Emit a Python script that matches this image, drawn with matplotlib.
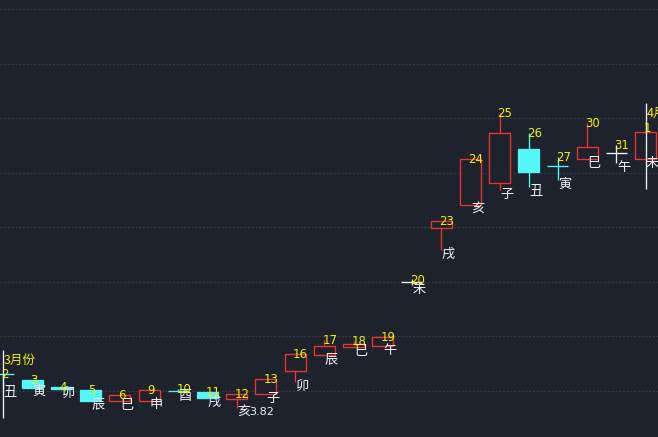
# daily candles with calendar branch labels, dark theme
import numpy as np
import matplotlib
matplotlib.use('Agg')
from matplotlib import pyplot as plt
from matplotlib.patches import Rectangle

plt.rcParams['font.family'] = ['Noto Sans CJK SC', 'DejaVu Sans']

days = [2, 3, 4, 5, 6, 9, 10, 11, 12, 13, 16, 17, 18, 19, 20, 23, 24, 25, 26, 27, 30, 31, 1]
branches = ['丑', '寅', '卯', '辰', '巳', '申', '酉', '戌', '亥', '子', '卯', '辰',
            '巳', '午', '未', '戌', '亥', '子', '丑', '寅', '巳', '午', '未']
opens = [3.944, 3.924, 3.898, 3.886, 3.846, 3.847, 3.884, 3.879, 3.853, 3.871, 3.956, 4.014,
         4.044, 4.048, 4.281, 4.481, 4.565, 4.646, 4.770, 4.708, 4.734, 4.756, 4.734]
highs = [3.944, 3.924, 3.898, 3.886, 3.868, 3.886, 3.890, 3.879, 3.871, 3.926, 4.018, 4.070,
         4.066, 4.081, 4.292, 4.506, 4.734, 4.903, 4.829, 4.741, 4.866, 4.785, 4.850]
lows = [3.893, 3.895, 3.889, 3.846, 3.846, 3.847, 3.878, 3.857, 3.820, 3.871, 3.915, 4.014,
        4.044, 4.048, 4.270, 4.400, 4.565, 4.620, 4.631, 4.657, 4.734, 4.719, 4.734]
closes = [3.943, 3.895, 3.889, 3.846, 3.868, 3.886, 3.883, 3.857, 3.871, 3.926, 4.018, 4.048,
          4.055, 4.081, 4.281, 4.506, 4.734, 4.829, 4.686, 4.707, 4.778, 4.756, 4.833]
months = ['3月份', '4月份']
month_start = [0, 22]

bg = '#1d222c'
red = '#f0332c'
cyan = '#55f5f8'
yellow = '#f5f000'
white = '#f2f2f2'

fig = plt.figure(figsize=(6.58, 4.37), dpi=100, facecolor=bg)
ax = fig.add_axes([0, 0, 1, 1])
ax.set_facecolor(bg)

w = 0.72
lw = 0.95
x = np.arange(len(days))
for i in x:
    o, h, l, c = opens[i], highs[i], lows[i], closes[i]
    if c > o:
        col = red
    elif c < o:
        col = cyan
    else:
        col = white
    ax.vlines(i, l, h, color=col, lw=lw, zorder=2)
    if abs(c - o) < 0.002:
        ax.hlines(o, i - w / 2, i + w / 2, color=col, lw=lw, zorder=3)
    elif c > o:
        ax.add_patch(Rectangle((i - w / 2, o), w, c - o, facecolor=bg,
                               edgecolor=col, lw=lw, zorder=3))
    else:
        ax.add_patch(Rectangle((i - w / 2, c), w, o - c, facecolor=col,
                               edgecolor=col, lw=lw, zorder=3))
    ax.annotate(str(days[i]), (i, h), xytext=(-1.5, -0.5), textcoords='offset points',
                color=yellow, fontsize=8.5, family=['DejaVu Sans'],
                ha='left', va='center', zorder=6)
    ax.annotate(branches[i], (i, l), xytext=(0.3, -3), textcoords='offset points',
                color=white, fontsize=9.5, ha='left', va='center', zorder=5)

# month separators
for m, s in zip(months, month_start):
    top = highs[s] + 0.09
    ax.vlines(s, lows[s] - 0.11, top, color=white, lw=lw, zorder=4)
    ax.annotate(m, (s, top), xytext=(0.5, -7.5), textcoords='offset points',
                color=yellow, fontsize=9, ha='left', va='center', zorder=6,
                annotation_clip=False, clip_on=True)

# lowest price mark
k = int(np.argmin(lows))
ax.annotate('%.2f' % lows[k], (k, lows[k]), xytext=(9, -3), textcoords='offset points',
            color=white, fontsize=8, family=['DejaVu Sans'],
            ha='left', va='center', zorder=6)

ax.set_xlim(-0.103, 22.425)
ax.set_ylim(3.7136, 5.3172)
ax.set_yticks(np.arange(3.884, 5.3, 0.2))
ax.set_xticks([])
ax.grid(axis='y', color='#363c47', linestyle=(0, (1.5, 1.5)), lw=0.9)
ax.tick_params(left=False, labelleft=False)
for sp in ax.spines.values():
    sp.set_visible(False)

fig.savefig('out.png', dpi=100, facecolor=bg)
